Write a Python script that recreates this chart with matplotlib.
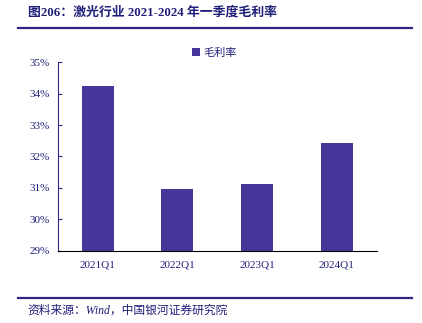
import matplotlib as mpl
mpl.use('Agg')

import matplotlib.pyplot as plt
import matplotlib.ticker as mticker
from matplotlib.lines import Line2D

# Data
quarters = ['2021Q1', '2022Q1', '2023Q1', '2024Q1']
gross_margin = [34.25, 30.97, 31.13, 32.43]
y_ticks = [29, 30, 31, 32, 33, 34, 35]

bar_color = '#45369A'
text_color = '#1F1F7A'
line_color = '#2E2785'
serif = ['Liberation Serif', 'Noto Sans CJK SC']

fig = plt.figure(figsize=(4.22, 3.23), dpi=100)
ax = fig.add_axes([0.137, 0.223, 0.756, 0.585])

x = range(len(quarters))
ax.bar(x, gross_margin, width=0.4, color=bar_color, label='毛利率')

ax.set_xlim(-0.5, len(quarters) - 0.5)
ax.set_ylim(29, 35)
ax.set_yticks(y_ticks)
ax.yaxis.set_major_formatter(mticker.FormatStrFormatter('%d%%'))
ax.set_xticks(list(x))
ax.set_xticklabels(quarters)

for label in ax.get_xticklabels() + ax.get_yticklabels():
    label.set_family(serif)
    label.set_fontsize(8)
    label.set_color(text_color)

ax.tick_params(axis='y', direction='in', length=3, color=line_color, pad=6)
ax.tick_params(axis='x', length=0, pad=7)

ax.spines['top'].set_visible(False)
ax.spines['right'].set_visible(False)
ax.spines['left'].set_color(line_color)
ax.spines['bottom'].set_color('black')

# Legend
leg = ax.legend(loc='lower center', bbox_to_anchor=(0.49, 0.97), frameon=False,
                handlelength=0.7, handleheight=0.7, handletextpad=0.3,
                prop={'family': ['Noto Sans CJK SC'], 'size': 8})
for t in leg.get_texts():
    t.set_color(text_color)

# Title and horizontal rules
fig.text(0.066, 0.963, '图206：激光行业 2021-2024 年一季度毛利率',
         family=serif, fontsize=9.3, fontweight='bold', color=text_color,
         ha='left', va='center')
fig.add_artist(Line2D([0.043, 0.976], [0.913, 0.913], transform=fig.transFigure,
                      color=line_color, lw=1.6))
fig.add_artist(Line2D([0.043, 0.976], [0.077, 0.077], transform=fig.transFigure,
                      color=line_color, lw=1.6))

# Source
fig.text(0.066, 0.037, '资料来源：Wind，中国银河证券研究院',
         family=serif, fontsize=8.5, style='italic', color=text_color,
         ha='left', va='center')

fig.savefig('out.png', dpi=100)
